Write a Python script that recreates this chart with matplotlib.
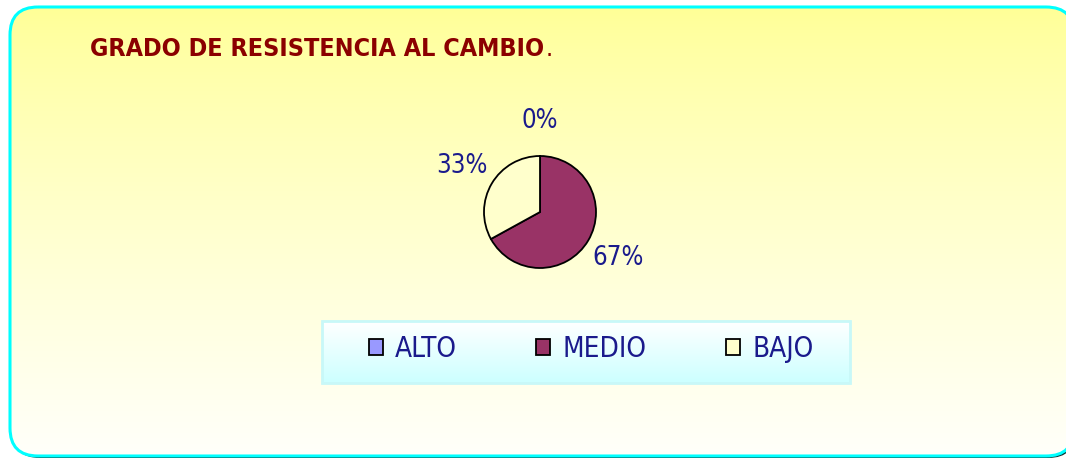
import numpy as np
import matplotlib
matplotlib.use('Agg')
import matplotlib.pyplot as plt
from matplotlib.patches import FancyBboxPatch, Rectangle, Polygon
from matplotlib import font_manager

# chart data
categories = ['ALTO', 'MEDIO', 'BAJO']
shares = [0, 67, 33]
colors = ['#9999FF', '#993366', '#FFFFCC']
title = 'GRADO DE RESISTENCIA AL CAMBIO'

# prefer a narrow / condensed sans if one is installed
names = {f.name for f in font_manager.fontManager.ttflist}
cond = {f.name for f in font_manager.fontManager.ttflist if f.stretch == 'condensed'}
if 'Liberation Sans Narrow' in names:
    FONT, STRETCH = ['Liberation Sans Narrow'], 'normal'
else:
    picks = [n for n in ['DejaVu Sans', 'Roboto', 'Noto Sans', 'Open Sans'] if n in cond]
    picks = picks or sorted(cond)
    FONT, STRETCH = (picks[:1], 'condensed') if picks else (['Liberation Sans'], 'normal')
NAVY = '#1a1a8c'

W, H = 1066, 459
fig = plt.figure(figsize=(W / 100, H / 100), dpi=100)
fig.patch.set_facecolor('white')

# background canvas in pixel coordinates
bg = fig.add_axes([0, 0, 1, 1])
bg.set_xlim(0, W)
bg.set_ylim(H, 0)
bg.axis('off')


def rounded(x, y, w, h, rad=28):
    # rounded rectangle flattened to a polygon (avoids curve clipping at the canvas edge)
    p = FancyBboxPatch((x, y), w, h, boxstyle=f'round,pad=0,rounding_size={rad}')
    return p.get_path().to_polygons()[0]


# drop shadow + rounded yellow panel with vertical gradient
px, py, pw, ph = 10, 7, 1064, 449
bg.add_patch(Polygon(rounded(px + 2, py + 2, pw, ph), fc='#103030', ec='none', zorder=1))
grad = np.linspace(0, 1, 256)[:, None]
top = np.array([255, 255, 150]) / 255
bot = np.array([255, 255, 250]) / 255
g = grad[..., None] ** 0.8
img = top[None, None, :] * (1 - g) + bot[None, None, :] * g
im = bg.imshow(img, extent=(px, px + pw, py + ph, py), aspect='auto', zorder=2)
clip = Polygon(rounded(px, py, pw, ph), fc='none', ec='none', transform=bg.transData)
bg.add_patch(clip)
im.set_clip_path(clip)
bg.add_patch(Polygon(rounded(px, py, pw, ph), fc='none', ec='#00FFFF', lw=2.2, zorder=3))
bg.set_xlim(0, W)
bg.set_ylim(H, 0)

# title, with a plain-weight period after it
t = bg.text(90, 49, title, color='#8B0000', fontsize=18, fontweight='bold',
            family=FONT, fontstretch=STRETCH, va='center', ha='left', zorder=5)
bg.annotate('.', xy=(1, 0), xycoords=t, xytext=(1, 0), textcoords='offset points',
            color='#8B0000', fontsize=18, family=FONT, fontstretch=STRETCH,
            va='bottom', ha='left', zorder=5)

# legend box with white-to-cyan gradient
lg_img = np.array([1, 1, 1])[None, None, :] * (1 - grad[..., None]) + \
    np.array([0.8, 1, 1])[None, None, :] * grad[..., None]
bg.imshow(lg_img, extent=(322, 850, 383, 321), aspect='auto', zorder=4)
bg.add_patch(Rectangle((322, 321), 528, 62, fc='none', ec='#C8F8F8', lw=2, zorder=5))
bg.set_xlim(0, W)
bg.set_ylim(H, 0)

# pie
cx, cy, r = 540, 212, 56
pax = fig.add_axes([(cx - r) / W, (H - cy - r) / H, 2 * r / W, 2 * r / H])
wedges, _, autotexts = pax.pie(shares, colors=colors, startangle=90, counterclock=False,
                               autopct=lambda p: f'{p:.0f}%', pctdistance=1.62,
                               wedgeprops=dict(edgecolor='black', linewidth=1.3))
for tx in autotexts:
    tx.set_color(NAVY)
    tx.set_fontsize(18.5)
    tx.set_family(FONT)
    tx.set_fontstretch(STRETCH)
pax.set_xlim(-1, 1)
pax.set_ylim(-1, 1)
pax.set_zorder(6)

leg = fig.legend(wedges, categories, loc='center', ncol=3, frameon=False,
                 bbox_to_anchor=(591 / W, 1 - 349 / H),
                 prop=dict(family=FONT, size=20, stretch=STRETCH),
                 handlelength=0.5, handleheight=0.5, handletextpad=0.45,
                 columnspacing=2.85, borderpad=0)
for txt in leg.get_texts():
    txt.set_color(NAVY)
for h in leg.legend_handles:
    h.set_linewidth(1.3)

fig.savefig('out.png', dpi=100)
